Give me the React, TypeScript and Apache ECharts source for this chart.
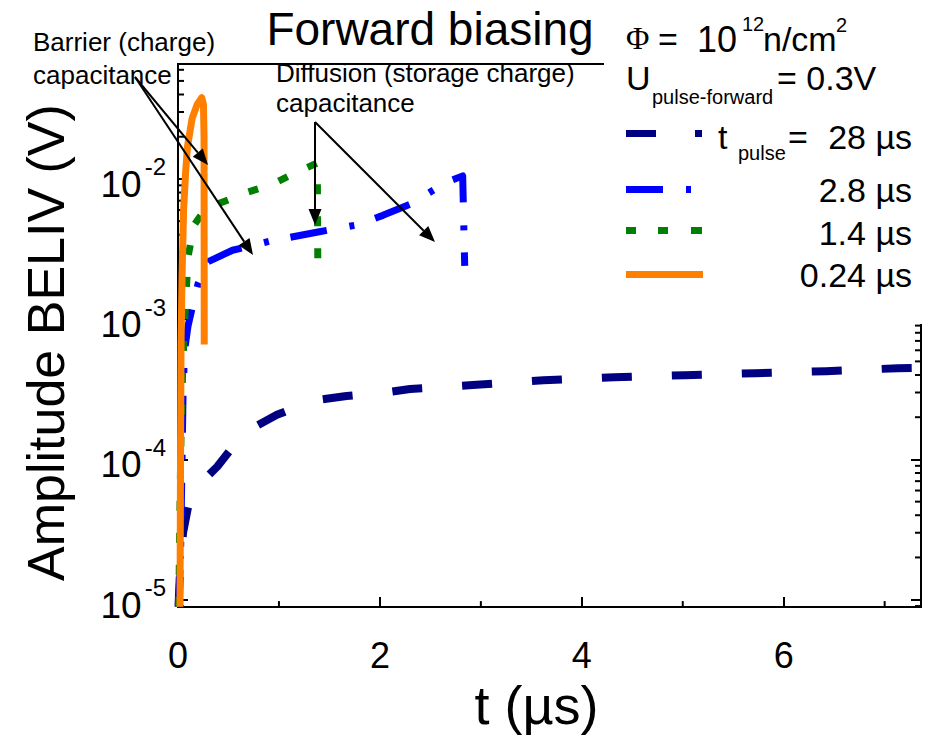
import React, { useEffect, useRef } from "react";
import * as echarts from "echarts";

const FONT = '"Liberation Sans", Arial, Helvetica, sans-serif';
const SERIF = '"Liberation Serif", "DejaVu Serif", serif';

// ---- data (t in µs, amplitude in V) ----
const seriesNames = ["28 µs", "2.8 µs", "1.4 µs", "0.24 µs"];
const seriesColors = ["#000080", "#0000ff", "#008000", "#ff8000"];

const t28 = [0.005, 0.02, 0.05, 0.1, 0.19, 0.39, 0.55, 0.71, 0.98, 1.2, 1.37, 1.67, 2.08, 2.3, 2.92, 3.62, 4.32, 5.02, 5.72, 6.42, 7.13, 7.36];
const v28 = [8.9e-6, 1.6e-5, 3.0e-5, 4.6e-5, 6.4e-5, 8.9e-5, 1.25e-4, 1.63e-4, 2.08e-4, 2.4e-4, 2.65e-4, 2.83e-4, 3.02e-4, 3.18e-4, 3.39e-4, 3.67e-4, 3.86e-4, 3.99e-4, 4.12e-4, 4.26e-4, 4.47e-4, 4.5e-4];

const t2p8 = [0.005, 0.025, 0.04, 0.05, 0.065, 0.1, 0.14, 0.2, 0.3, 0.54, 0.91, 1.4, 1.77, 2.03, 2.3, 2.66, 2.82, 2.84];
const v2p8 = [8.9e-6, 2e-5, 1e-4, 2.9e-4, 6e-4, 9e-4, 1.2e-3, 1.8e-3, 2.57e-3, 3.1e-3, 3.6e-3, 4.2e-3, 4.7e-3, 5.5e-3, 6.6e-3, 9.5e-3, 1.05e-2, 2.4e-3];

const t1p4 = [0.008, 0.02, 0.03, 0.045, 0.06, 0.08, 0.1, 0.16, 0.25, 0.41, 0.68, 0.94, 1.18, 1.38, 1.385];
const v1p4 = [8.9e-6, 5e-5, 1.5e-4, 4e-4, 8e-4, 1.5e-3, 2.8e-3, 4.7e-3, 5.8e-3, 6.7e-3, 8e-3, 9.2e-3, 1.12e-2, 1.3e-2, 2.4e-3];

const t0p24 = [0.02, 0.025, 0.03, 0.04, 0.055, 0.075, 0.094, 0.14, 0.19, 0.235, 0.252, 0.258, 0.26];
const v0p24 = [8.9e-6, 1e-4, 6.6e-4, 2e-3, 5.9e-3, 1.1e-2, 1.7e-2, 2.7e-2, 3.4e-2, 3.8e-2, 3.4e-2, 2e-2, 6.6e-4];

const xMinorTicks = [1, 3, 5, 7];
const yMinorMultiples = [2, 3, 4, 5, 6, 7, 8, 9];
const yDecades = [-6, -5, -4, -3, -2, -1];

const X_MIN = 0;
const X_MAX = 7.36;
const Y_MIN = 8.85e-6;
const Y_MAX = 0.066;

function zip(t: number[], v: number[]) {
  return t.map((x, i) => [x, v[i]]);
}

function arrow(x1: number, y1: number, x2: number, y2: number) {
  const dx = x2 - x1, dy = y2 - y1;
  const L = Math.hypot(dx, dy);
  const ux = dx / L, uy = dy / L;
  const len = 16, hw = 6.5;
  const bx = x2 - ux * len, by = y2 - uy * len;
  return [
    { type: "line", z: 110, shape: { x1, y1, x2: bx, y2: by }, style: { stroke: "#000", lineWidth: 2 } },
    {
      type: "polygon", z: 110,
      shape: { points: [[x2, y2], [bx - uy * hw, by + ux * hw], [bx + uy * hw, by - ux * hw]] },
      style: { fill: "#000" },
    },
  ];
}

function txt(text: string, x: number, y: number, size: number, align = "left", family = FONT) {
  return {
    type: "text", z: 120, x, y,
    style: { text, fontSize: size, fontFamily: family, fill: "#000", align, verticalAlign: "middle" },
  };
}

function rect(x: number, y: number, w: number, h: number, fill: string) {
  return { type: "rect", z: 115, shape: { x, y, width: w, height: h }, style: { fill } };
}

export default function App() {
  const ref = useRef<HTMLDivElement>(null);
  useEffect(() => {
    if (!ref.current) return;
    const chart = echarts.init(ref.current, null, { renderer: "svg" });

    const yMinor: number[][] = [];
    yDecades.forEach((e) => {
      yMinorMultiples.forEach((m) => {
        const v = m * Math.pow(10, e);
        if (v > Y_MIN && v < Y_MAX) yMinor.push([X_MIN, v]);
      });
    });

    const lineSeries = [
      { t: t28, v: v28, dash: [30, 40], width: 8 },
      { t: t2p8, v: v2p8, dash: [37, 23, 5, 22], width: 7 },
      { t: t1p4, v: v1p4, dash: [10, 22], width: 7 },
      { t: t0p24, v: v0p24, dash: "solid", width: 7 },
    ].map((s, i) => ({
      name: seriesNames[i],
      type: "line",
      data: zip(s.t, s.v),
      symbol: "none",
      showSymbol: false,
      z: 3 + i,
      lineStyle: { color: seriesColors[i], width: s.width, type: s.dash, cap: "butt", join: "round" },
    }));

    const graphic: any[] = [
      { type: "rect", z: 100, shape: { x: 604, y: 0, width: 328, height: 324 }, style: { fill: "#fff" } },
      txt("Forward biasing", 430, 29, 46, "center"),
      txt("Barrier (charge)", 33, 42, 26),
      txt("capacitance", 33, 75, 26),
      txt("Diffusion (storage charge)", 276, 73, 26),
      txt("capacitance", 276, 103, 26),
      ...arrow(135, 77, 208, 165),
      ...arrow(135, 77, 253, 255),
      ...arrow(315, 122, 315, 225),
      ...arrow(315, 122, 435, 242),
      // legend block
      txt("Φ", 626, 38, 32, "left", SERIF),
      txt("=", 658, 39, 34),
      txt("10", 697, 39, 36),
      txt("12", 742, 24, 20),
      txt("n/cm", 763, 39, 34),
      txt("2", 836, 25, 20),
      txt("U", 626, 78, 34),
      txt("pulse-forward", 652, 97, 20),
      txt("= 0.3V", 777, 78, 34),
      rect(626, 130, 30, 7, seriesColors[0]),
      rect(695, 130, 7, 7, seriesColors[0]),
      txt("t", 718, 137, 34),
      txt("pulse", 738, 153, 20),
      txt("=", 788, 137, 34),
      txt(seriesNames[0], 912, 137, 34, "right"),
      rect(626, 186, 37, 7, seriesColors[1]),
      rect(686, 186, 5, 7, seriesColors[1]),
      txt(seriesNames[1], 912, 190, 34, "right"),
      rect(626, 227, 10, 7, seriesColors[2]),
      rect(658, 227, 10, 7, seriesColors[2]),
      rect(691, 227, 11, 7, seriesColors[2]),
      txt(seriesNames[2], 912, 233, 34, "right"),
      rect(626, 271, 77, 7, seriesColors[3]),
      txt(seriesNames[3], 912, 275, 34, "right"),
    ];

    chart.setOption({
      animation: false,
      textStyle: { fontFamily: FONT },
      grid: {
        left: 178, right: 11, top: 64, bottom: 125,
        show: true, borderColor: "#000", borderWidth: 2, backgroundColor: "transparent",
      },
      xAxis: {
        type: "value",
        min: X_MIN, max: X_MAX, interval: 2,
        name: "t (µs)", nameLocation: "middle", nameGap: 57,
        nameTextStyle: { fontSize: 54, color: "#000", fontFamily: FONT, padding: [0, 26, 0, 0] },
        axisLine: { show: true, lineStyle: { color: "#000", width: 2 } },
        axisTick: { show: true, inside: true, length: 10, lineStyle: { color: "#000", width: 2 } },
        axisLabel: { fontSize: 36, color: "#000", margin: 30, fontFamily: FONT, showMaxLabel: false },
        splitLine: { show: false },
      },
      yAxis: [
        {
          type: "log", logBase: 10,
          min: Y_MIN, max: Y_MAX,
          name: "Amplitude BELIV (V)", nameLocation: "middle", nameGap: 106,
          nameTextStyle: { fontSize: 52, color: "#000", fontFamily: FONT, padding: [0, 14, 0, 0] },
          axisLine: { show: true, lineStyle: { color: "#000", width: 2 } },
          axisTick: { show: true, inside: true, length: 10, lineStyle: { color: "#000", width: 2 } },
          axisLabel: {
            margin: 12, showMinLabel: false, showMaxLabel: false,
            formatter: (v: number) => `{b|10}{s|${Math.round(Math.log10(v))}}`,
            rich: {
              b: { fontSize: 37, lineHeight: 48, color: "#000", fontFamily: FONT, verticalAlign: "bottom" },
              s: { fontSize: 24, lineHeight: 24, color: "#000", fontFamily: FONT, verticalAlign: "top", padding: [0, 0, 0, 3] },
            },
          },
          splitLine: { show: false },
        },
        {
          type: "log", logBase: 10, position: "right",
          min: Y_MIN, max: Y_MAX,
          axisLine: { show: true, lineStyle: { color: "#000", width: 2 } },
          axisTick: { show: true, inside: true, length: 10, lineStyle: { color: "#000", width: 2 } },
          axisLabel: { show: false },
          splitLine: { show: false },
        },
      ],
      series: [
        ...lineSeries,
        {
          type: "custom",
          silent: true,
          z: 2,
          data: yMinor,
          renderItem: (params: any, api: any) => {
            const v = api.value(1);
            const pL = api.coord([X_MIN, v]);
            const pR = api.coord([X_MAX, v]);
            return {
              type: "group",
              children: [
                { type: "line", shape: { x1: pL[0], y1: pL[1], x2: pL[0] + 6, y2: pL[1] }, style: { stroke: "#000", lineWidth: 2 } },
                { type: "line", shape: { x1: pR[0], y1: pR[1], x2: pR[0] - 6, y2: pR[1] }, style: { stroke: "#000", lineWidth: 2 } },
              ],
            };
          },
        },
        {
          type: "custom",
          silent: true,
          z: 2,
          data: xMinorTicks.map((t) => [t, Y_MIN]),
          renderItem: (params: any, api: any) => {
            const p = api.coord([api.value(0), Y_MIN]);
            return { type: "line", shape: { x1: p[0], y1: p[1], x2: p[0], y2: p[1] - 6 }, style: { stroke: "#000", lineWidth: 2 } };
          },
        },
      ],
      graphic,
    });
    return () => chart.dispose();
  }, []);

  return (
    <div
      ref={ref}
      style={{ position: "fixed", left: 0, top: 0, width: 932, height: 737, background: "#fff" }}
    />
  );
}
